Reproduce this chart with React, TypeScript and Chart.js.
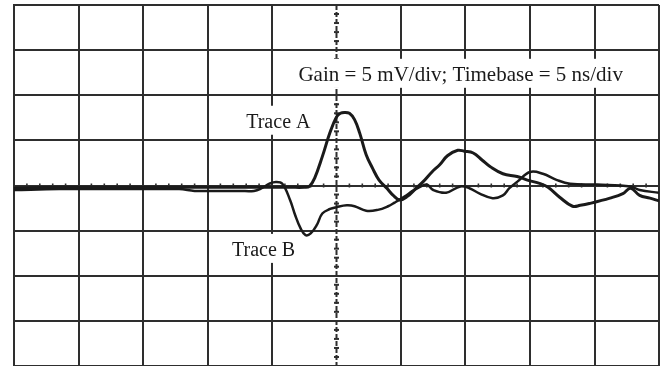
import React, { useEffect, useRef } from "react";
import { Chart, registerables } from "chart.js";

Chart.register(...registerables);

// Time in ns (5 ns/div), amplitude in mV (5 mV/div)
const TRACE_A_NS = [0, 3.5, 8.2, 12.8, 17.5, 21.4, 22.5, 22.9, 23.3, 23.9, 24.5, 25.0, 25.3, 25.6, 26.0, 26.4, 26.8, 27.3, 27.8, 28.3, 28.9, 29.4, 29.9, 30.5, 31.1, 31.7, 32.4, 33.0, 33.6, 34.4, 34.9, 35.6, 36.3, 36.9, 37.9, 39.0, 39.8, 40.8, 41.4, 42.3, 43.3, 43.9, 44.6, 46.2, 47.2, 47.8, 48.5, 49.3, 50.0];
const TRACE_A_MV = [-0.3, -0.2, -0.2, -0.2, -0.2, -0.2, -0.2, -0.1, 0.8, 3.2, 5.9, 7.6, 8.0, 8.1, 8.0, 7.3, 5.8, 3.4, 1.9, 0.6, -0.3, -1.1, -1.6, -1.2, -0.4, 0.4, 1.5, 2.3, 3.3, 3.9, 3.8, 3.6, 2.8, 2.1, 1.3, 1.0, 0.6, 0.2, -0.2, -1.3, -2.3, -2.2, -2.0, -1.4, -0.9, -0.3, -1.1, -1.4, -1.7];

const TRACE_B_NS = [0, 3.5, 8.2, 12.8, 14.0, 15.1, 17.5, 18.6, 19.2, 19.8, 20.3, 20.8, 21.4, 21.8, 22.2, 22.6, 23.0, 23.5, 23.9, 24.5, 25.0, 25.8, 26.4, 27.3, 28.2, 29.0, 29.5, 30.3, 30.9, 31.4, 32.0, 32.5, 33.5, 34.6, 35.3, 36.1, 37.1, 37.9, 38.4, 39.0, 40.0, 41.0, 42.1, 43.1, 45.2, 47.8, 48.5, 50.0];
const TRACE_B_MV = [-0.5, -0.4, -0.4, -0.4, -0.6, -0.6, -0.6, -0.6, -0.3, 0.2, 0.4, 0.2, -1.6, -3.3, -4.7, -5.5, -5.3, -4.3, -3.1, -2.6, -2.4, -2.2, -2.3, -2.8, -2.7, -2.3, -1.9, -1.2, -0.6, -0.2, 0.1, -0.5, -0.8, -0.1, -0.3, -0.9, -1.4, -1.1, -0.3, 0.4, 1.5, 1.3, 0.6, 0.2, 0.1, -0.1, -0.5, -0.8];

const X_MIN = 0, X_MAX = 50, X_DIV = 5;
const Y_MIN = -20, Y_MAX = 20, Y_DIV = 5;

const CAPTION = "Gain = 5 mV/div; Timebase = 5 ns/div";
const LABEL_A = "Trace A";
const LABEL_B = "Trace B";

const GRID = "#2e2e2e";
const INK = "#1a1a1a";
const FONT_FAMILY = '"Liberation Serif", "Times New Roman", serif';

const toPoints = (xs: number[], ys: number[]) => xs.map((x, i) => ({ x, y: ys[i] }));

const scopePlugin = {
  id: "scopeExtras",
  beforeDatasetsDraw(chart: any) {
    const { ctx, chartArea, scales } = chart;
    const xs = scales.x, ys = scales.y;
    const cx = xs.getPixelForValue((X_MIN + X_MAX) / 2);
    const cy = ys.getPixelForValue(0);
    ctx.save();
    ctx.strokeStyle = GRID;
    // dashed centre vertical line
    ctx.lineWidth = 2;
    ctx.setLineDash([5, 2]);
    ctx.beginPath();
    ctx.moveTo(cx, chartArea.top);
    ctx.lineTo(cx, chartArea.bottom);
    ctx.stroke();
    ctx.setLineDash([]);
    // minor ticks on centre vertical
    for (let v = Y_MIN; v <= Y_MAX; v += 1) {
      if (v % Y_DIV === 0) continue;
      const p = ys.getPixelForValue(v);
      ctx.beginPath();
      ctx.moveTo(cx - 2.5, p);
      ctx.lineTo(cx + 2.5, p);
      ctx.stroke();
    }
    // minor ticks on centre horizontal
    ctx.lineWidth = 1.6;
    for (let v = X_MIN; v <= X_MAX; v += 1) {
      if (v % X_DIV === 0) continue;
      const p = xs.getPixelForValue(v);
      ctx.beginPath();
      ctx.moveTo(p, cy - 2);
      ctx.lineTo(p, cy + 2);
      ctx.stroke();
    }
    ctx.restore();
  },
  afterDatasetsDraw(chart: any) {
    const { ctx, scales } = chart;
    const xs = scales.x, ys = scales.y;
    const labels = [
      { text: CAPTION, x: 22.05, y: 11.6, size: 21 },
      { text: LABEL_A, x: 18.0, y: 6.4, size: 20 },
      { text: LABEL_B, x: 16.9, y: -7.8, size: 20 },
    ];
    ctx.save();
    ctx.textBaseline = "alphabetic";
    ctx.textAlign = "left";
    for (const l of labels) {
      ctx.font = `${l.size}px ${FONT_FAMILY}`;
      const px = xs.getPixelForValue(l.x);
      const py = ys.getPixelForValue(l.y);
      const w = ctx.measureText(l.text).width;
      ctx.fillStyle = "#ffffff";
      ctx.fillRect(px - 4, py - 22, w + 8, 29);
      ctx.fillStyle = INK;
      ctx.fillText(l.text, px, py);
    }
    ctx.restore();
  },
};

export default function App() {
  const ref = useRef<HTMLCanvasElement>(null);
  useEffect(() => {
    document.body.style.margin = "0";
    document.body.style.background = "#ffffff";
    const chart = new Chart(ref.current as HTMLCanvasElement, {
      type: "scatter",
      data: {
        datasets: [
          {
            label: LABEL_A,
            data: toPoints(TRACE_A_NS, TRACE_A_MV),
            showLine: true,
            borderColor: INK,
            borderWidth: 3,
            pointRadius: 0,
            tension: 0.4,
          },
          {
            label: LABEL_B,
            data: toPoints(TRACE_B_NS, TRACE_B_MV),
            showLine: true,
            borderColor: INK,
            borderWidth: 2.5,
            pointRadius: 0,
            tension: 0.4,
          },
        ],
      },
      options: {
        responsive: false,
        animation: false,
        layout: { padding: { left: 14, top: 5, right: 4, bottom: 0 } },
        plugins: { legend: { display: false }, tooltip: { enabled: false } },
        scales: {
          x: {
            type: "linear",
            min: X_MIN,
            max: X_MAX,
            ticks: { display: false, stepSize: X_DIV },
            grid: {
              drawTicks: false,
              lineWidth: 2,
              color: (c: any) => (c.tick && c.tick.value === (X_MIN + X_MAX) / 2 ? "rgba(0,0,0,0)" : GRID),
            },
            border: { display: true, color: GRID, width: 2 },
          },
          y: {
            type: "linear",
            min: Y_MIN,
            max: Y_MAX,
            ticks: { display: false, stepSize: Y_DIV },
            grid: { drawTicks: false, lineWidth: 2, color: GRID },
            border: { display: true, color: GRID, width: 2 },
          },
        },
      },
      plugins: [scopePlugin],
    });
    return () => chart.destroy();
  }, []);
  return (
    <div style={{ width: 663, height: 366, background: "#ffffff" }}>
      <canvas ref={ref} width={663} height={366} style={{ display: "block" }} />
    </div>
  );
}
